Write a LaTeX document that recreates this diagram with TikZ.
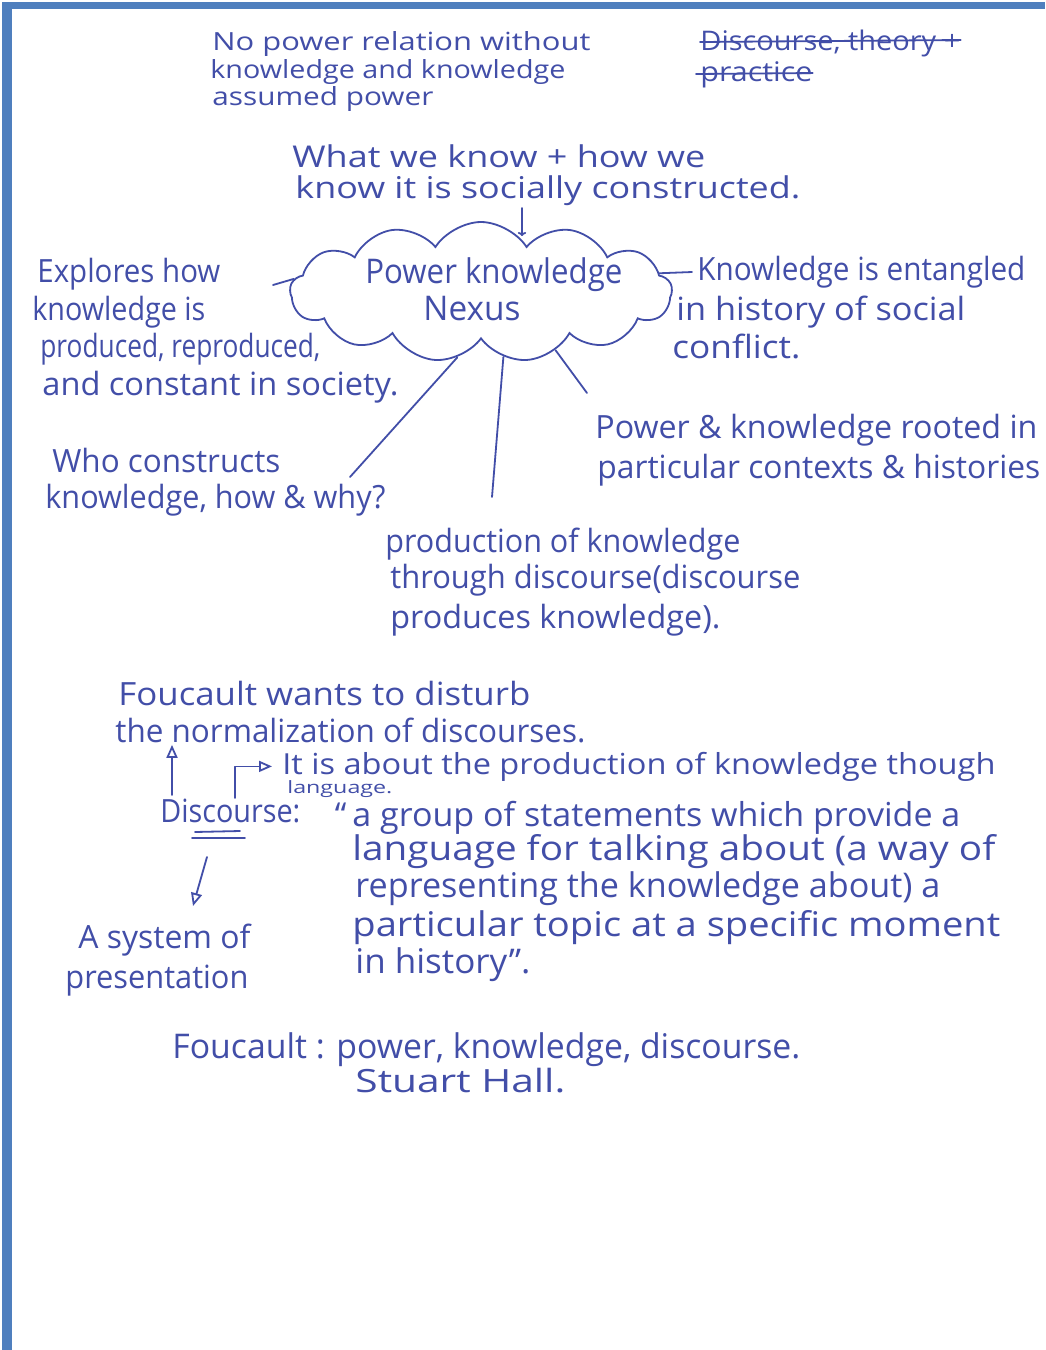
\documentclass[tikz,border=0pt]{standalone}
\usepackage{fontspec}
\usepackage{graphicx}
\setmainfont{Open Sans}
\usetikzlibrary{shapes.symbols,arrows.meta,calc}
\definecolor{ink}{RGB}{66,78,168}
\definecolor{framecol}{RGB}{79,127,190}
\newcommand\hsz[1]{\fontsize{#1}{#1}\selectfont}
\newlength\hwlen
\newcommand\fitw[2]{\settowidth{\hwlen}{#2}\pgfmathsetmacro\hwsx{0.5*#1/\hwlen}\scalebox{\hwsx}[1]{#2}}
\begin{document}
\begin{tikzpicture}[x=0.5pt,y=-0.5pt,
  hw/.style={anchor=base west, inner sep=0pt, text=ink, font=\hsz{16}},
  pen/.style={draw=ink, line width=0.9pt, line cap=round, line join=round},
  opentip/.style={-{Triangle[open,length=6.5pt,width=5.5pt]}},
  cloudbox/.style={cloud, cloud puffs=13, cloud puff arc=115, cloud ignores aspect,
    draw=ink, line width=0.9pt, minimum width=191pt, minimum height=70pt, inner sep=0pt}]
\useasboundingbox (0,0) rectangle (1045,1350);
\fill[white] (0,0) rectangle (1045,1350);
\fill[framecol] (2,2) rectangle (1045,9);
\fill[framecol] (2,2) rectangle (12,1350);

% top left
\node[hw,font=\hsz{12.5}] (np1) at (212,50) {\fitw{378}{No power relation without}};
\node[hw,font=\hsz{12.5}] (np2) at (210,78) {\fitw{355}{knowledge and knowledge}};
\node[hw,font=\hsz{12.5}] (np3) at (212,105) {\fitw{221}{assumed power}};

% top right (struck through)
\node[hw,font=\hsz{13.5}] (dt1) at (700,50) {\fitw{260}{Discourse, theory +}};
\node[hw,font=\hsz{13.5}] (dt2) at (700,81) {\fitw{112}{practice}};
\draw[pen] ($(dt1.base west)+(0,-8)$) -- ($(dt1.base east)+(0,-10)$);
\draw[pen] ($(dt2.base west)+(-4,-7)$) -- ($(dt2.base east)+(0,-8)$);

% what we know
\node[hw,font=\hsz{15}] (kn1) at (292,167) {\fitw{413}{What we know + how we}};
\node[hw,font=\hsz{15}] (kn2) at (295,198) {\fitw{505}{know it is socially constructed.}};

% cloud
\node[cloudbox] (nexus) at (481,292) {};
\node[hw,font=\hsz{17}] (pk1) at (365,283) {\fitw{257}{Power knowledge}};
\node[hw,font=\hsz{17}] (pk2) at (423,320) {\fitw{97}{Nexus}};

\coordinate (kT) at (522,208);
\coordinate (kB) at (522,236);
\draw[pen,-{To[length=2pt]}] (kT) -- (kB);

% explores
\node[hw] (ex1) at (37,282) {\fitw{183}{Explores how}};
\node[hw] (ex2) at (32,320) {\fitw{173}{knowledge is}};
\node[hw] (ex3) at (40,357) {\fitw{280}{produced, reproduced,}};
\node[hw] (ex4) at (42,395) {\fitw{356}{and constant in society.}};
\coordinate (dl) at (273,285);
\draw[pen] (dl) -- (nexus.176);

% entangled
\node[hw] (en1) at (697,280) {\fitw{328}{Knowledge is entangled}};
\node[hw] (en2) at (676,320) {\fitw{289}{in history of social}};
\node[hw] (en3) at (672,358) {\fitw{128}{conflict.}};
\coordinate (dr) at (692,272);
\draw[pen] (nexus.6) -- (dr);

% rooted
\node[hw] (ro1) at (595,438) {\fitw{442}{Power \& knowledge rooted in}};
\node[hw] (ro2) at (597,478) {\fitw{443}{particular contexts \& histories}};

% who
\node[hw] (wh1) at (52,472) {\fitw{228}{Who constructs}};
\node[hw] (wh2) at (45,508) {\fitw{340}{knowledge, how \& why?}};

% production
\node[hw] (pr1) at (385,552) {\fitw{355}{production of knowledge}};
\node[hw] (pr2) at (390,588) {\fitw{410}{through discourse(discourse}};
\node[hw] (pr3) at (390,628) {\fitw{330}{produces knowledge).}};

% lines from cloud
\coordinate (eA) at (350,477);
\coordinate (eB) at (492,497);
\coordinate (eC) at (587,393);
\draw[pen] (nexus.250) -- (eA);
\draw[pen] (nexus.289) -- (eB);
\draw[pen] (nexus.322) -- (eC);

% Foucault wants
\node[hw] (fw1) at (118,705) {\fitw{412}{Foucault wants to disturb}};
\node[hw] (fw2) at (115,742) {\fitw{470}{the normalization of discourses.}};

% discourse block
\node[hw,font=\hsz{14.5}] (ab1) at (282,774) {\fitw{713}{It is about the production of knowledge though}};
\node[hw,font=\hsz{8.5}] (ab2) at (287,793) {\fitw{105}{language.}};
\node[hw] (disc) at (160,822) {\fitw{140}{Discourse:}};

\node[hw,font=\hsz{16.5}] (q1) at (352,826) {\llap{“\kern3pt}\fitw{608}{a group of statements which provide a}};
\node[hw,font=\hsz{17}] (q2) at (352,860) {\fitw{643}{language for talking about (a way of}};
\node[hw,font=\hsz{17}] (q3) at (355,897) {\fitw{585}{representing the knowledge about) a}};
\node[hw,font=\hsz{17}] (q4) at (352,936) {\fitw{648}{particular topic at a specific moment}};
\node[hw,font=\hsz{17}] (q5) at (355,973) {\fitw{175}{in history”.}};

\node[hw] (sy1) at (78,948) {\fitw{172}{A system of}};
\node[hw] (sy2) at (65,988) {\fitw{183}{presentation}};

\coordinate (uS) at (172,795);
\draw[pen,opentip,shorten >=1pt] (uS) -- (uS |- fw2.south);
\coordinate (bS) at (235,798);
\draw[pen,opentip,shorten >=5pt] (bS) |- (ab1.west);
\draw[pen] (195,832) -- (240,831);
\draw[pen] (192,838) -- (245,838);
\coordinate (dS) at (207,857);
\coordinate (dE) at (193,906);
\draw[pen,opentip] (dS) -- (dE);

% final
\node[hw,font=\hsz{17}] (fo1) at (172,1058) {\fitw{628}{Foucault : power, knowledge, discourse.}};
\node[hw,font=\hsz{16}] (fo2) at (355,1092) {\fitw{210}{Stuart Hall.}};
\end{tikzpicture}
\end{document}
